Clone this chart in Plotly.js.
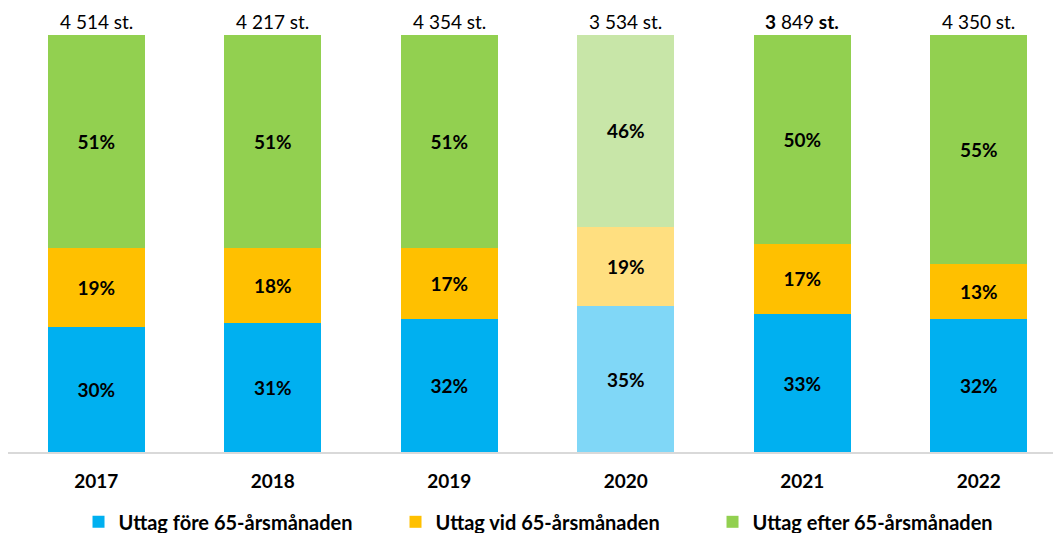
<!DOCTYPE html>
<html>
<head>
<meta charset="utf-8">
<script src="https://cdn.plot.ly/plotly-3.0.1.min.js"></script>
<style>html,body{margin:0;padding:0;background:#fff;}#chart{width:1053px;height:533px;}</style>
</head>
<body>
<div id="chart"></div>
<script>
const years = ["2017", "2018", "2019", "2020", "2021", "2022"];
const fore = [30, 31, 32, 35, 33, 32];
const vid = [19, 18, 17, 19, 17, 13];
const efter = [51, 51, 51, 46, 50, 55];
const totals = ["4 514", "4 217", "4 354", "3 534", "3 849", "4 350"];
const seriesNames = ["Uttag före 65-årsmånaden", "Uttag vid 65-årsmånaden", "Uttag efter 65-årsmånaden"];
const baseColors = ["#00b0f0", "#ffc000", "#92d050"];
const lightColors = ["#80d7f7", "#ffdf80", "#c8e6a8"];
const lightYear = "2020";

const font = "Lato, 'Open Sans', sans-serif";
const series = [fore, vid, efter];
const traces = series.map((vals, i) => ({
  type: "bar",
  name: seriesNames[i],
  x: years,
  y: vals,
  width: 0.55,
  text: vals.map(v => "<b>" + v + "%</b>"),
  textposition: "inside",
  insidetextanchor: "middle",
  textangle: 0,
  textfont: {family: font, size: 19, color: "#000"},
  hoverinfo: "skip",
  marker: {color: years.map(y => y === lightYear ? lightColors[i] : baseColors[i]), line: {width: 0}}
}));

const annotations = years.map((y, i) => ({
  x: i, y: 100, xref: "x", yref: "y",
  yanchor: "bottom", yshift: 0,
  showarrow: false,
  text: y === "2021" ? "<b>" + totals[i].split(" ")[0] + "</b> " + totals[i].split(" ")[1] + " <b>st.</b>" : totals[i] + " st.",
  font: {family: font, size: 19, color: "#000"}
}));

const layout = {
  width: 1053, height: 533,
  margin: {l: 8, r: 0, t: 35, b: 81},
  barmode: "stack",
  paper_bgcolor: "#fff", plot_bgcolor: "#fff",
  showlegend: true,
  legend: {orientation: "h", xref: "paper", x: 0.5225, xanchor: "center", yref: "container", y: 0.021, yanchor: "middle",
    font: {family: font, size: 20, color: "#000", weight: "bold"}, itemwidth: 30,
    entrywidth: 272, entrywidthmode: "pixels", traceorder: "normal"},
  xaxis: {type: "category", range: [-0.5, 5.42], showgrid: false, zeroline: false,
    showline: true, linecolor: "#d9d9d9", linewidth: 1.5, ticks: "", ticklabelstandoff: 12,
    tickfont: {family: font, size: 19, color: "#000", weight: "bold"}},
  yaxis: {range: [0, 100], visible: false, fixedrange: true},
  annotations: annotations
};

Plotly.newPlot("chart", traces, layout, {displayModeBar: false, staticPlot: true});
</script>
</body>
</html>
